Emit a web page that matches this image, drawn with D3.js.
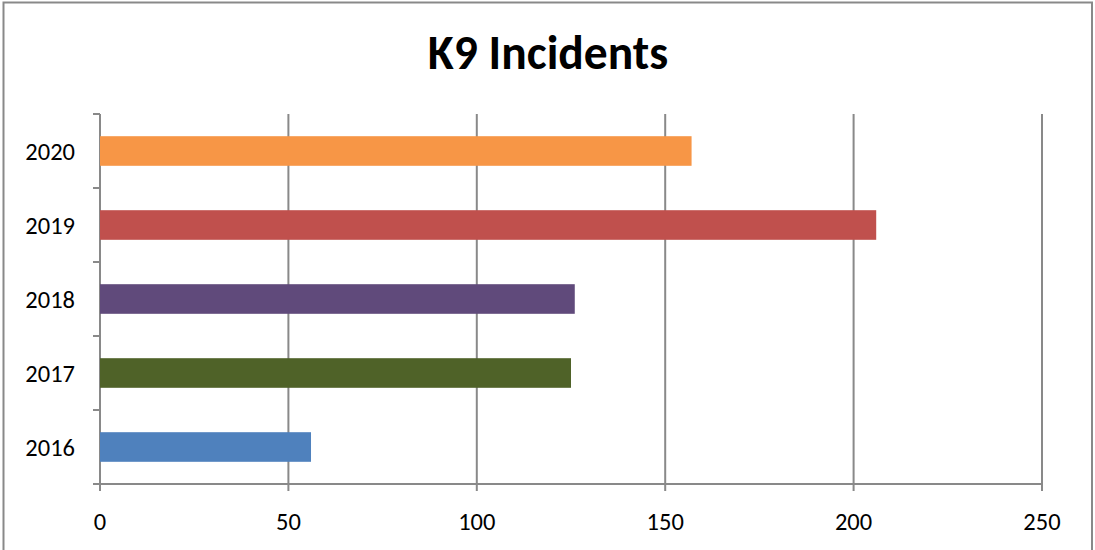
<!DOCTYPE html>
<html>
<head>
<meta charset="utf-8">
<script src="https://cdn.jsdelivr.net/npm/d3@7/dist/d3.min.js"></script>
<style>
  html, body { margin: 0; padding: 0; background: #fff; }
  svg { display: block; }
  text { font-family: Carlito, Lato, "Liberation Sans", sans-serif; fill: #000; }
</style>
</head>
<body>
<svg id="chart" width="1095" height="550"></svg>
<script>
const title = "K9 Incidents";
const categories = ["2016", "2017", "2018", "2019", "2020"];
const values = [56, 125, 126, 206, 157];
const barColors = ["#4F81BD", "#4F6228", "#604A7B", "#C0504D", "#F79646"];
const xTicks = [0, 50, 100, 150, 200, 250];

const svg = d3.select("#chart");
const plot = { left: 100, right: 1042, top: 114, bottom: 484 };
const gridColor = "#898989";

// outer chart border (bottom edge lies beyond the picture)
svg.append("rect")
  .attr("x", 3.5).attr("y", 2.5)
  .attr("width", 1088.5).attr("height", 560)
  .attr("fill", "#fff").attr("stroke", gridColor).attr("stroke-width", 2);

const x = d3.scaleLinear().domain([0, 250]).range([plot.left, plot.right]);
const y = d3.scaleBand()
  .domain(categories.slice().reverse())
  .range([plot.top, plot.bottom])
  .paddingInner(0.6).paddingOuter(0.3);

// vertical gridlines + bottom tick marks
svg.append("g").selectAll("line").data(xTicks).join("line")
  .attr("x1", d => x(d)).attr("x2", d => x(d))
  .attr("y1", plot.top).attr("y2", plot.bottom + 7)
  .attr("stroke", gridColor).attr("stroke-width", 2);

// horizontal axis line
svg.append("line")
  .attr("x1", plot.left - 7).attr("x2", plot.right)
  .attr("y1", plot.bottom).attr("y2", plot.bottom)
  .attr("stroke", gridColor).attr("stroke-width", 2);

// left category tick marks at band boundaries
const bounds = d3.range(categories.length + 1).map(i => plot.top + i * y.step());
svg.append("g").selectAll("line").data(bounds).join("line")
  .attr("x1", plot.left - 7).attr("x2", plot.left)
  .attr("y1", d => d).attr("y2", d => d)
  .attr("stroke", gridColor).attr("stroke-width", 2);

// bars
svg.append("g").selectAll("rect").data(categories).join("rect")
  .attr("x", x(0))
  .attr("y", d => y(d))
  .attr("width", (d, i) => x(values[i]) - x(0))
  .attr("height", y.bandwidth())
  .attr("fill", (d, i) => barColors[i]);

// category labels
svg.append("g").selectAll("text").data(categories).join("text")
  .attr("x", 75)
  .attr("y", d => y(d) + y.bandwidth() / 2)
  .attr("dy", "0.36em")
  .attr("text-anchor", "end")
  .attr("font-size", 24.5)
  .text(d => d);

// value labels
svg.append("g").selectAll("text").data(xTicks).join("text")
  .attr("x", d => x(d))
  .attr("y", 530)
  .attr("text-anchor", "middle")
  .attr("font-size", 24.5)
  .text(d => d);

// title
svg.append("text")
  .attr("x", 548).attr("y", 69)
  .attr("text-anchor", "middle")
  .attr("font-size", 47.5)
  .attr("font-weight", "bold")
  .text(title);
</script>
</body>
</html>
